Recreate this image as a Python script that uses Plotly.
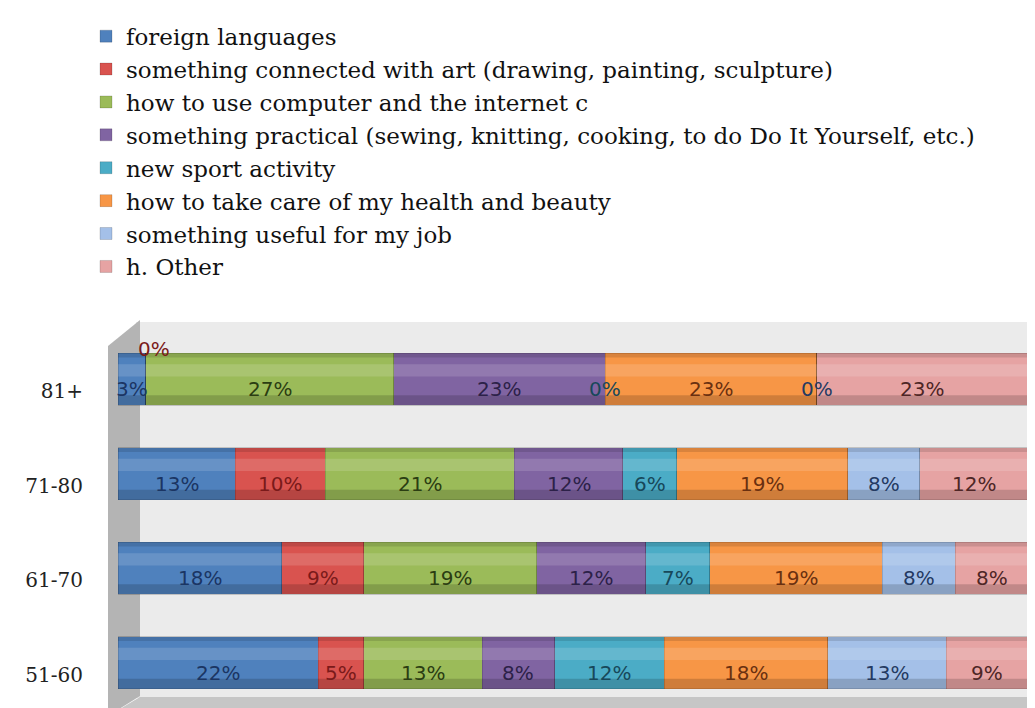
import plotly.graph_objects as go

# age groups, bottom to top
ages = ["51-60", "61-70", "71-80", "81+"]

series_names = [
    "foreign languages",
    "something connected with art (drawing, painting, sculpture)",
    "how to use computer and the internet c",
    "something practical (sewing, knitting, cooking, to do Do It Yourself, etc.)",
    "new sport activity",
    "how to take care of my health and beauty",
    "something useful for my job",
    "h. Other",
]

foreign = [22, 18, 13, 3]
art = [5, 9, 10, 0]
computer = [13, 19, 21, 27]
practical = [8, 12, 12, 23]
sport = [12, 7, 6, 0]
health = [18, 19, 19, 23]
job = [13, 8, 8, 0]
other = [9, 8, 12, 23]

values = [foreign, art, computer, practical, sport, health, job, other]

colors = ["#4F81BD", "#D9534F", "#9BBB59", "#8064A2",
          "#4BACC6", "#F79646", "#A4C0E8", "#E6A3A3"]
label_colors = ["#1B3563", "#7A1A1A", "#2B3D12", "#2C2148",
                "#17485A", "#6A3010", "#243A62", "#4E2626"]

W, H = 1035, 708
ML, MR, MT, MB = 110, 15, 322, 6
PW, PH = W - ML - MR, H - MT - MB


def px(x):
    return (x - ML) / PW


def py(y):
    return 1 - (y - MT) / PH


fig = go.Figure()
for name, vals, c in zip(series_names, values, colors):
    fig.add_trace(go.Bar(
        y=ages, x=vals, name=name, orientation="h",
        marker=dict(color=c, line=dict(color="rgba(0,0,0,0.25)", width=0.6)),
        hoverinfo="skip",
    ))

# value labels at the middle of each (normalised) segment
annotations = []
for j, age in enumerate(ages):
    total = sum(v[j] for v in values)
    cum = 0
    for k, vals in enumerate(values):
        v = vals[j]
        mid = (cum + v / 2) / total * 100
        cum += v
        ys, xs = -10, 0
        if v == 0 and k == 1:
            ys, xs = 30, 8  # the squeezed 0% sits above the bar
        annotations.append(dict(
            x=mid, y=age, xref="x", yref="y", text=f"{v}%", showarrow=False,
            xshift=xs, yshift=ys,
            font=dict(family="DejaVu Sans", size=20, color=label_colors[k]),
        ))

shapes = []
# back wall
shapes.append(dict(type="rect", xref="paper", yref="paper", layer="below",
                   x0=px(128), x1=px(1035), y0=py(690), y1=py(312),
                   fillcolor="#EBEBEB", line=dict(width=0)))
# left wall
shapes.append(dict(type="path", xref="paper", yref="paper", layer="below",
                   path=f"M{px(100)},{py(336)} L{px(132)},{py(310)} L{px(132)},{py(688)} "
                        f"L{px(100)},{py(708)} Z",
                   fillcolor="#B4B4B4", line=dict(width=0)))
# floor
shapes.append(dict(type="path", xref="paper", yref="paper", layer="below",
                   path=f"M{px(100)},{py(708)} L{px(132)},{py(689)} L{px(1035)},{py(689)} "
                        f"L{px(1035)},{py(694)} L{px(1012)},{py(708)} Z",
                   fillcolor="#C6C6C6", line=dict(width=0)))
# cylinder shading on each bar
for i in range(len(ages)):
    shapes.append(dict(type="rect", xref="x", yref="y", layer="above",
                       x0=0, x1=100, y0=i - 0.275, y1=i - 0.17,
                       fillcolor="rgba(0,0,0,0.16)", line=dict(width=0)))
    shapes.append(dict(type="rect", xref="x", yref="y", layer="above",
                       x0=0, x1=100, y0=i + 0.03, y1=i + 0.16,
                       fillcolor="rgba(255,255,255,0.14)", line=dict(width=0)))
    shapes.append(dict(type="rect", xref="x", yref="y", layer="above",
                       x0=0, x1=100, y0=i + 0.23, y1=i + 0.275,
                       fillcolor="rgba(0,0,0,0.12)", line=dict(width=0)))

fig.update_layout(
    width=W, height=H,
    margin=dict(l=ML, r=MR, t=MT, b=MB),
    barmode="stack", barnorm="percent", bargap=0.45,
    paper_bgcolor="white", plot_bgcolor="rgba(0,0,0,0)",
    showlegend=True,
    legend=dict(
        x=px(78), y=py(3), xanchor="left", yanchor="top",
        font=dict(family="DejaVu Serif", size=23, color="#111111"),
        traceorder="normal", itemclick=False, bgcolor="rgba(0,0,0,0)",
    ),
    annotations=annotations,
    shapes=shapes,
)
fig.update_xaxes(range=[0, 100], showgrid=False, zeroline=False,
                 showticklabels=False, fixedrange=True)
fig.update_yaxes(categoryorder="array", categoryarray=ages, range=[-0.5, 3.5],
                 showgrid=False, zeroline=False, ticks="outside", ticklen=30,
                 tickcolor="rgba(0,0,0,0)", ticklabelshift=12,
                 tickfont=dict(family="DejaVu Serif", size=20, color="#222222"))

fig.write_html("out.html")
